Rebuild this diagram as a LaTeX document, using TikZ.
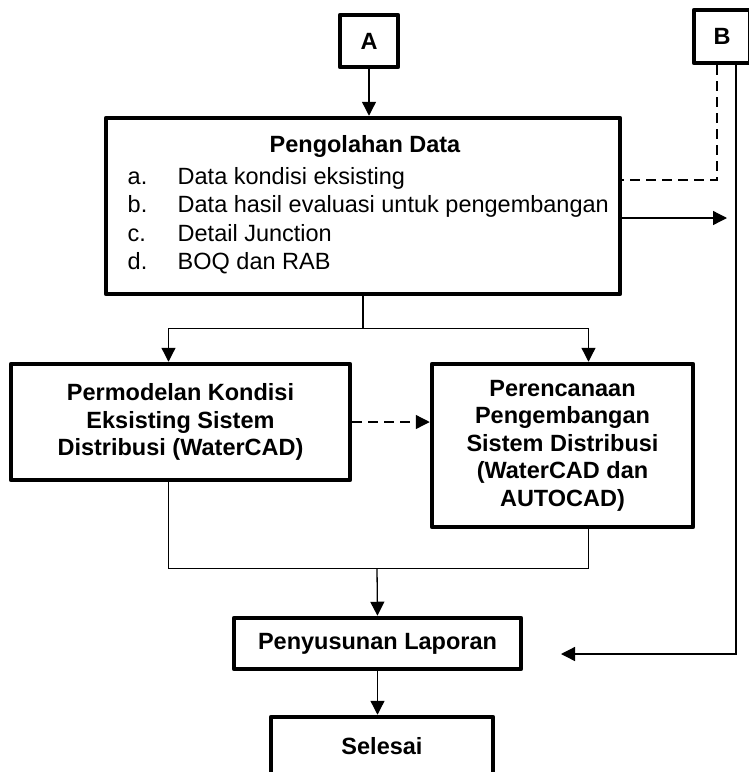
\documentclass[tikz,border=0pt]{standalone}
\usepackage{fontspec}
\setmainfont{Liberation Sans}
\usetikzlibrary{arrows.meta}

\begin{document}
\begin{tikzpicture}[x=1pt,y=-1pt,
    kotak/.style={draw, line width=4.5pt, line join=round, align=center, inner sep=0pt,
        font=\fontsize{23.5}{27.5}\selectfont\bfseries},
    panah/.style={line width=1.3pt, -{Triangle[length=14pt,width=14pt]}},
    garis/.style={line width=1.3pt},
    putus/.style={line width=1.3pt, dash pattern=on 10pt off 6pt}]
    \useasboundingbox (0,0) rectangle (749,772);

    % A dan B
    \node[kotak, minimum width=58, minimum height=52] (A) at (369,41) {A};
    \node[kotak, minimum width=56, minimum height=53] (B) at (722,36.5) {B};

    % Pengolahan Data
    \node[kotak, minimum width=514, minimum height=176] (olah) at (363,206) {};
    \node[anchor=base, font=\fontsize{23.5}{28.5}\selectfont\bfseries] (judul) at (365,152) {Pengolahan Data};
    \node[anchor=north west, inner sep=0pt, font=\fontsize{23.5}{28.5}\selectfont] (daftar) at (127.5,164)
        {\begin{tabular}{@{}p{50pt}@{}l@{}}
            a. & Data kondisi eksisting\\
            b. & Data hasil evaluasi untuk pengembangan\\
            c. & Detail Junction\\
            d. & BOQ dan RAB
        \end{tabular}};

    % permodelan dan perencanaan
    \node[kotak, minimum width=339, minimum height=116] (perm) at (180.5,422)
        {Permodelan Kondisi\\Eksisting Sistem\\Distribusi (WaterCAD)};
    \node[kotak, minimum width=261, minimum height=163] (renc) at (562.5,445.5)
        {Perencanaan\\Pengembangan\\Sistem Distribusi\\(WaterCAD dan\\AUTOCAD)};

    % laporan dan selesai
    \node[kotak, minimum width=287, minimum height=51] (lapor) at (377.5,643.5) {Penyusunan Laporan};
    \node[kotak, minimum width=222, minimum height=58] (selesai) at (382,746) {Selesai};

    % titik bantu
    \coordinate (tujuanB) at (727,218);
    \coordinate (kembali) at (561,654);
    \coordinate (gabung) at (377,568);

    % panah utama
    \draw[panah] (A.south) -- (A.south |- olah.north);
    \draw[panah] (olah.south) -- ++(0,32) -| ([xshift=-12]perm.north);
    \draw[panah] (olah.south) -- ++(0,32) -| ([xshift=26]renc.north);
    \draw[panah, dash pattern=on 10pt off 6pt] (perm.east) -- (perm.east -| renc.west);
    \draw[garis] ([xshift=-12]perm.south) -- ++(0,86) -| ([xshift=26]renc.south);
    \draw[panah] (gabung) -- (lapor.north);
    \draw[panah] (lapor.south) -- (lapor.south |- selesai.north);

    % jalur B
    \draw[putus] ([xshift=-5]B.south) |- ([yshift=26]olah.east);
    \draw[panah] ([yshift=-12]olah.east) -- (tujuanB);
    \draw[panah] ([xshift=14]B.south) |- (kembali);
\end{tikzpicture}
\end{document}
